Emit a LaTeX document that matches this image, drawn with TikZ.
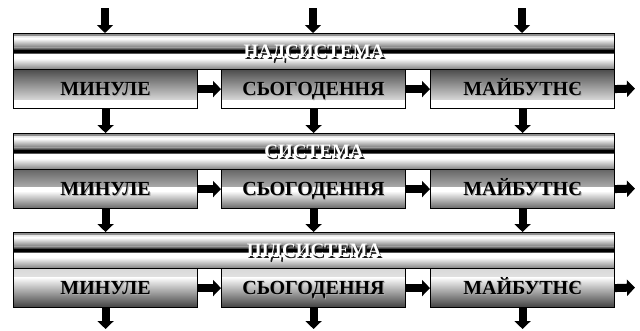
\documentclass[tikz,border=0pt]{standalone}
\usepackage{fontspec}
\setmainfont{Liberation Serif}
\usetikzlibrary{arrows.meta,calc}

% fills the current node with horizontal colour bands;
% each entry is  top fraction / bottom fraction / top colour / bottom colour
\newcommand\bandfill[1]{%
  \foreach \fa/\fb/\ca/\cb in {#1}{
    \shade[top color=\ca, bottom color=\cb]
      ($(path picture bounding box.north west)!\fa!(path picture bounding box.south west)$)
      rectangle
      ($(path picture bounding box.north east)!\fb!(path picture bounding box.south east)$);
  }}

\newcommand\tierrow[4]{% prefix, top y, title, time-box style
  \node[sub, #4] (#1a) at (13,#2+36) {};
  \node[sub, #4] (#1b) at (221,#2+36) {};
  \node[sub, #4] (#1c) at (430,#2+36) {};
  \node[bar] (#1) at (13,#2) {};
  \node[barlbl, text=black!90] (#1-s) at ([shift={(1.4,1.4)}]#1.center) {#3};
  \node[barlbl, text=white] (#1-t) at (#1.center) {#3};
  \foreach \k/\w in {a/МИНУЛЕ,b/СЬОГОДЕННЯ,c/МАЙБУТНЄ}{
    \node[lbl, text=black!35] (#1\k-s) at ([shift={(1,1)}]#1\k.center) {\w};
    \node[lbl, text=black] (#1\k-t) at (#1\k.center) {\w};
  }
  \coordinate (#1out) at (635,#2+55.5);
  \draw[flow] (#1a.east) -- (#1b.west);
  \draw[flow] (#1b.east) -- (#1c.west);
  \draw[flow] (#1c.east) -- (#1out);
}

\begin{document}
\begin{tikzpicture}[x=1pt,y=-1pt,
  frame/.style={draw=black, line width=1.1pt, inner sep=0pt, anchor=north west},
  bar/.style={frame, minimum width=601pt, minimum height=36pt,
    path picture={\bandfill{0/0.08/black!45/black!8, 0.08/0.14/black!8/white,
      0.14/0.40/white/black!55, 0.40/0.47/black!55/black, 0.47/0.52/black/black,
      0.52/0.58/black/white, 0.58/0.69/white/white, 0.69/1/white/black!50}}},
  sub/.style={frame, minimum width=184pt, minimum height=39pt},
  toptone/.style={path picture={\bandfill{0/0.8/black!70/white, 0.8/1/white/white}}},
  midtone/.style={path picture={\bandfill{0/0.45/black!60/white, 0.45/0.55/white/white,
      0.55/1/white/black!60}}},
  bottone/.style={path picture={\bandfill{0/0.22/black!15/white, 0.22/1/white/black!75}}},
  lbl/.style={font=\bfseries\fontsize{20}{21}\selectfont, text height=13.5pt,
    text depth=0pt, inner sep=0pt},
  barlbl/.style={font=\bfseries\fontsize{19}{20}\selectfont, text height=12.8pt,
    text depth=0pt, inner sep=0pt},
  flow/.style={line width=8pt, -{Triangle[width=16pt,length=8pt]}},
]
\useasboundingbox (0,0) rectangle (640,330);

\tierrow{A}{33}{НАДСИСТЕМА}{toptone}
\tierrow{B}{133}{СИСТЕМА}{midtone}
\tierrow{C}{232}{ПІДСИСТЕМА}{bottone}

% inputs from above
\coordinate (in1) at (105,8);
\coordinate (in2) at (313,8);
\coordinate (in3) at (522,8);
\draw[flow] (in1) -- (in1 |- A.north);
\draw[flow] (in2) -- (in2 |- A.north);
\draw[flow] (in3) -- (in3 |- A.north);

% links between tiers
\foreach \k in {a,b,c}{
  \draw[flow] (A\k.south) -- (A\k.south |- B.north);
  \draw[flow] (B\k.south) -- (B\k.south |- C.north);
}

% outputs below
\coordinate (bottom) at (0,329);
\foreach \k in {a,b,c}{
  \draw[flow] (C\k.south) -- (C\k.south |- bottom);
}
\end{tikzpicture}
\end{document}
